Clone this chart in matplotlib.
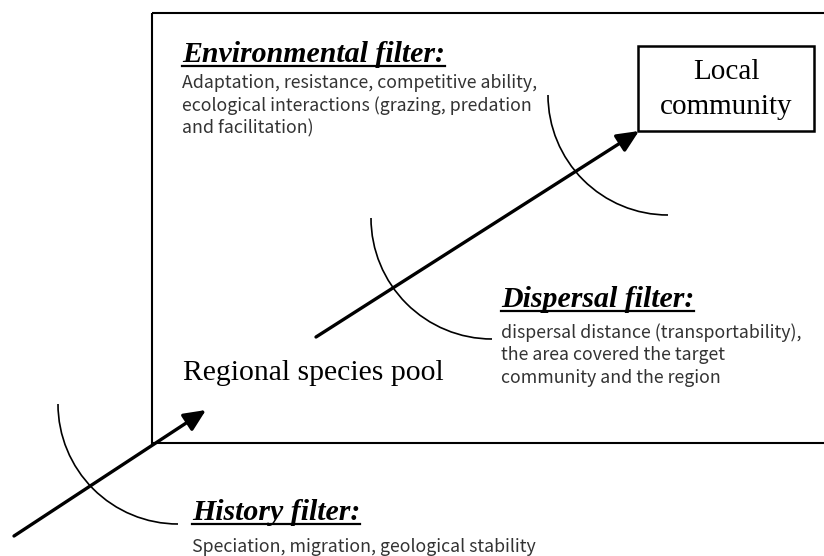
import matplotlib
matplotlib.use("Agg")
from matplotlib import pyplot as plt
from matplotlib.patches import Rectangle, FancyArrowPatch, Arc

W, H = 824, 556

# diagram geometry, in picture pixels (y grows downward)
outer_box = [152, 13, 700, 430]          # x, y, width, height (runs off the right edge)
local_box = [638, 46, 176, 85]
arrows = [[(14, 536), (206, 410)], [(316, 337), (639, 131)]]
arcs = [(178, 404, 120), (492, 218, 121), (668, 95, 120)]   # centre x, centre y, radius

titles = ["Environmental filter:", "Dispersal filter:", "History filter:"]
title_pos = [(182, 62), (501, 307), (192, 520)]
bodies = [
    ["Adaptation, resistance, competitive ability,",
     "ecological interactions (grazing, predation",
     "and facilitation)"],
    ["dispersal distance (transportability),",
     "the area covered the target",
     "community and the region"],
    ["Speciation, migration, geological stability"],
]
body_pos = [(182, 83), (501, 333), (192, 547)]
line_gap = 22.5

serif = "Liberation Serif"
sans = ["Noto Sans CJK SC", "DejaVu Sans"]

fig = plt.figure(figsize=(W / 100, H / 100), dpi=100)
ax = fig.add_axes([0, 0, 1, 1])
ax.set_xlim(0, W)
ax.set_ylim(H, 0)
ax.axis("off")

ax.add_patch(Rectangle(outer_box[:2], outer_box[2], outer_box[3],
                       fill=False, ec="black", lw=1.5))
ax.add_patch(Rectangle(local_box[:2], local_box[2], local_box[3],
                       fill=False, ec="black", lw=1.8))
ax.text(local_box[0] + local_box[2] / 2, 72, "Local", family=serif,
        fontsize=21, ha="center", va="center")
ax.text(local_box[0] + local_box[2] / 2, 107, "community", family=serif,
        fontsize=21, ha="center", va="center")
ax.text(183, 373, "Regional species pool", family=serif, fontsize=21.4,
        ha="left", va="center")

for (x0, y0), (x1, y1) in arrows:
    ax.add_patch(FancyArrowPatch((x0, y0), (x1, y1),
                                 arrowstyle="-|>,head_length=0.55,head_width=0.25",
                                 mutation_scale=24, lw=2.4, color="black",
                                 shrinkA=0, shrinkB=0))

for cx, cy, r in arcs:
    # quarter from the left point down to the bottom point
    ax.add_patch(Arc((cx, cy), 2 * r, 2 * r, theta1=90, theta2=180,
                     lw=1.2, color="black"))

title_texts = []
for t, (x, y) in zip(titles, title_pos):
    tt = ax.text(x, y, t, family=serif, fontsize=21.5, fontweight="bold",
                 fontstyle="italic", ha="left", va="baseline")
    title_texts.append(tt)

for lines, (x, y) in zip(bodies, body_pos):
    for i, s in enumerate(lines):
        ax.text(x, y + i * line_gap, s, family=sans, fontsize=12.8,
                fontweight="light", color="#333333", ha="left", va="center")

# underline the titles
fig.canvas.draw()
r = fig.canvas.get_renderer()
inv = ax.transData.inverted()
for tt, (x, y) in zip(title_texts, title_pos):
    bb = tt.get_window_extent(r)
    (xa, _), (xb, _) = inv.transform([(bb.x0, bb.y0), (bb.x1, bb.y0)])
    ax.plot([xa, xb], [y + 4, y + 4], color="black", lw=1.6)

fig.savefig("out.png", dpi=100)
